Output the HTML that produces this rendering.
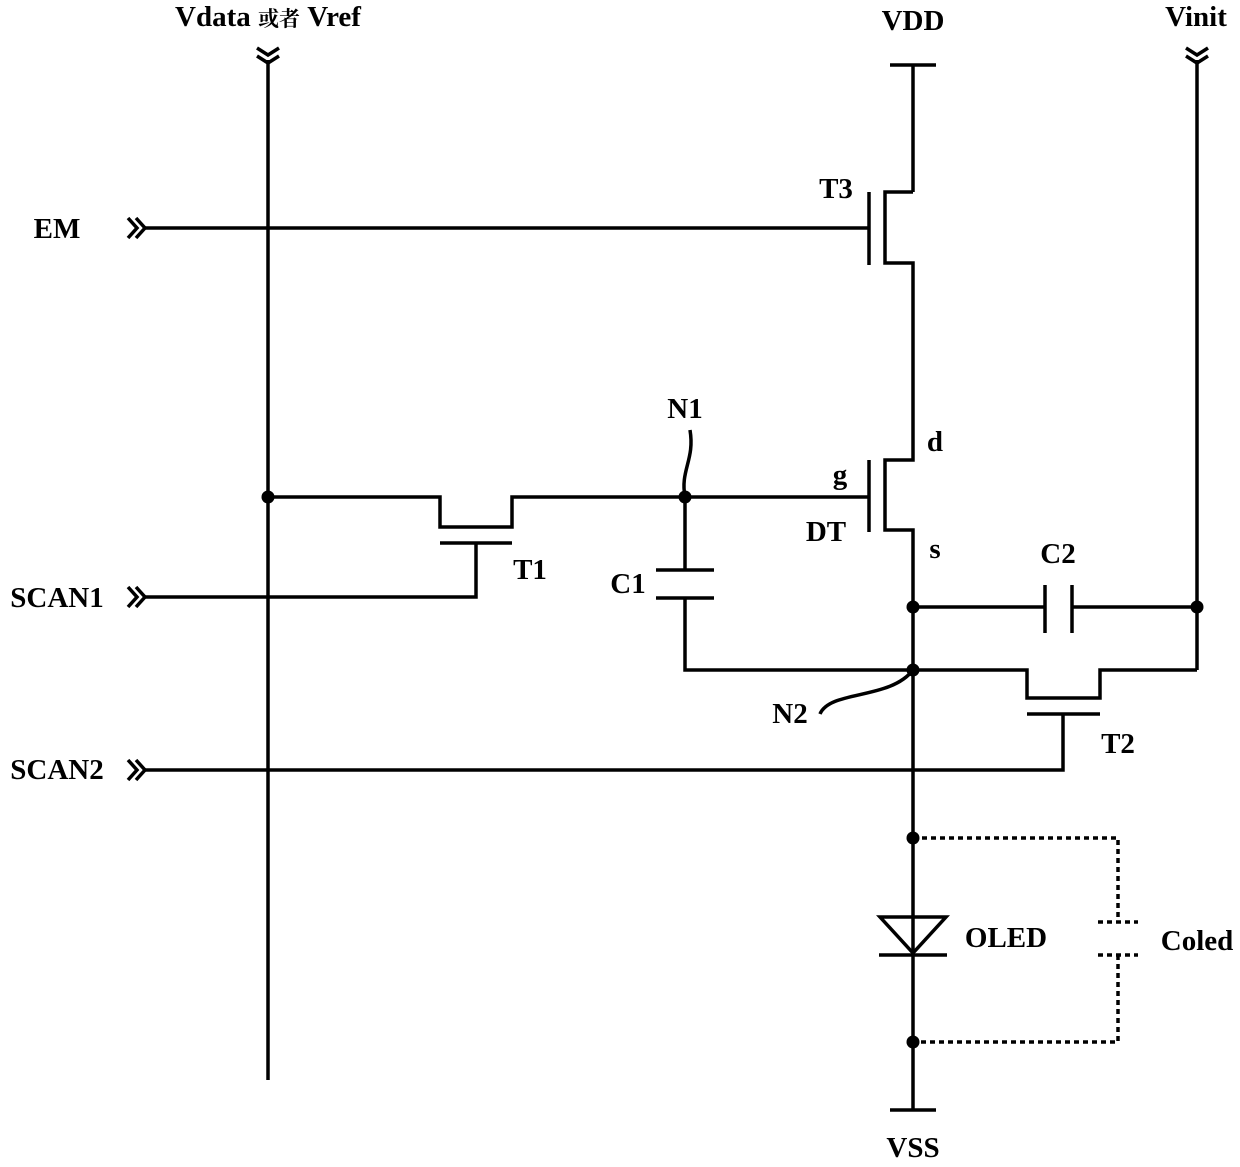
<!DOCTYPE html>
<html><head><meta charset="utf-8"><style>
html,body{margin:0;padding:0;background:#fff;}
svg{display:block}
text{font-family:"Liberation Serif","Noto Serif CJK SC",serif;font-weight:bold;font-size:29px;fill:#000}
</style></head><body>
<svg width="1240" height="1167" viewBox="0 0 1240 1167" xmlns="http://www.w3.org/2000/svg">
<g stroke="#000" stroke-width="3.5" fill="none">
<line x1="268" y1="60" x2="268" y2="1080"/>
<polyline points="257,48 268,55 279,48"/><polyline points="257,56 268,63 279,56"/>
<line x1="1197" y1="60" x2="1197" y2="670"/>
<polyline points="1186,48 1197,55 1208,48"/><polyline points="1186,56 1197,63 1208,56"/>
<polyline points="128,218 137,228 128,238"/><polyline points="136,218 145,228 136,238"/>
<polyline points="128,587 137,597 128,607"/><polyline points="136,587 145,597 136,607"/>
<polyline points="128,760 137,770 128,780"/><polyline points="136,760 145,770 136,780"/>
<line x1="890" y1="65" x2="936" y2="65"/>
<line x1="913" y1="65" x2="913" y2="192"/>
<polyline points="913,192 885,192 885,263 913,263 913,460 885,460 885,530 913,530 913,1110"/>
<line x1="869" y1="192" x2="869" y2="265"/>
<line x1="869" y1="460" x2="869" y2="532"/>
<line x1="145" y1="228" x2="869" y2="228"/>
<line x1="890" y1="1110" x2="936" y2="1110"/>
<polyline points="268,497 440,497 440,527 512,527 512,497 869,497"/>
<line x1="440" y1="543" x2="512" y2="543"/>
<polyline points="476,543 476,597 145,597"/>
<line x1="685" y1="497" x2="685" y2="570"/>
<line x1="656" y1="570" x2="714" y2="570"/>
<line x1="656" y1="598" x2="714" y2="598"/>
<polyline points="685,598 685,670 1027,670 1027,698 1100,698 1100,670 1197,670"/>
<line x1="1027" y1="714" x2="1100" y2="714"/>
<polyline points="1063,714 1063,770 145,770"/>
<line x1="913" y1="607" x2="1045" y2="607"/>
<line x1="1045" y1="585" x2="1045" y2="633"/>
<line x1="1072" y1="585" x2="1072" y2="633"/>
<line x1="1072" y1="607" x2="1197" y2="607"/>
<polygon points="880,917 946,917 913,953"/>
<line x1="879" y1="955" x2="947" y2="955"/>
<g stroke-dasharray="5,4">
<polyline points="913,838 1118,838 1118,922"/>
<polyline points="1118,955 1118,1042 913,1042"/>
<line x1="1098" y1="922" x2="1138" y2="922"/>
<line x1="1098" y1="955" x2="1138" y2="955"/>
</g>
<path d="M685,497 C680,470 695,460 690,430"/>
<path d="M913,670 C890,700 830,690 820,714"/>
</g>
<g fill="#000">
<circle cx="268" cy="497" r="6.5"/><circle cx="685" cy="497" r="6.5"/>
<circle cx="913" cy="607" r="6.5"/><circle cx="913" cy="670" r="6.5"/>
<circle cx="1197" cy="607" r="6.5"/><circle cx="913" cy="838" r="6.5"/>
<circle cx="913" cy="1042" r="6.5"/>
</g>
<text x="268" y="26" text-anchor="middle">Vdata <tspan font-size="21">或者</tspan> Vref</text>
<text x="913" y="30" text-anchor="middle">VDD</text>
<text x="1196" y="26" text-anchor="middle">Vinit</text>
<text x="913" y="1157" text-anchor="middle">VSS</text>
<text x="57" y="238" text-anchor="middle">EM</text>
<text x="57" y="607" text-anchor="middle">SCAN1</text>
<text x="57" y="779" text-anchor="middle">SCAN2</text>
<text x="836" y="198" text-anchor="middle">T3</text>
<text x="935" y="451" text-anchor="middle">d</text>
<text x="840" y="484" text-anchor="middle">g</text>
<text x="826" y="541" text-anchor="middle">DT</text>
<text x="935" y="558" text-anchor="middle">s</text>
<text x="530" y="579" text-anchor="middle">T1</text>
<text x="628" y="593" text-anchor="middle">C1</text>
<text x="1058" y="563" text-anchor="middle">C2</text>
<text x="1118" y="753" text-anchor="middle">T2</text>
<text x="685" y="418" text-anchor="middle">N1</text>
<text x="790" y="723" text-anchor="middle">N2</text>
<text x="1006" y="947" text-anchor="middle">OLED</text>
<text x="1197" y="950" text-anchor="middle">Coled</text>
</svg>
</body></html>
